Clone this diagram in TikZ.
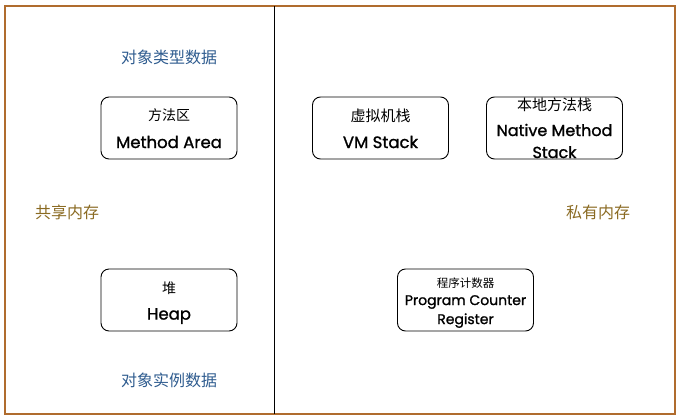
\documentclass[tikz,border=0pt]{standalone}
\usepackage{fontspec}
\usepackage{xcolor}
\usepackage{tikz}
\usetikzlibrary{positioning}
\newfontfamily\cjk{Noto Sans CJK SC}
\newfontfamily\hand{Poppins}[FakeBold=1.2]
\definecolor{frame}{HTML}{B06C2E}
\definecolor{typeblue}{HTML}{2F5C8F}
\definecolor{memolive}{HTML}{8A6A22}
\tikzset{
    area/.style={draw, line width=0.9pt, rounded corners=8pt, minimum width=136pt, minimum height=62pt, inner sep=0pt},
    zh/.style={font=\cjk\fontsize{14}{14}\selectfont},
    en/.style={font=\hand\fontsize{16.5}{18}\selectfont, align=center},
    note/.style={font=\cjk\fontsize{16}{16}\selectfont, text=typeblue},
    mem/.style={font=\cjk\fontsize{16}{16}\selectfont, text=memolive}
}
\begin{document}
\begin{tikzpicture}[x=1pt, y=-1pt]
        \useasboundingbox (0,0) rectangle (680,418);
        \draw[frame, line width=1.2pt] (5,6) rectangle (675,414);
        \coordinate (divtop) at (274,6);
        \coordinate (divbot) at (274,414);
        \draw[line width=1pt] (divtop) -- (divbot);

        % shared side
        \node[area] (methodarea) at (169,128) {};
        \node[zh] (methodzh) at (169,115) {方法区};
        \node[en] (methoden) at (169,142) {Method Area};

        \node[area] (heap) at (169,300) {};
        \node[zh] (heapzh) at (169,288) {堆};
        \node[en] (heapen) at (169,316) {Heap};

        % private side
        \node[area] (vmstack) at (380.5,128) {};
        \node[zh, font=\cjk\fontsize{15}{15}\selectfont] (vmzh) at (380.5,116) {虚拟机栈};
        \node[en] (vmen) at (380.5,142) {VM Stack};

        \node[area] (nativestack) at (554.5,128) {};
        \node[zh, font=\cjk\fontsize{15}{15}\selectfont] (nativezh) at (554.5,105) {本地方法栈};
        \node[en, font=\hand\fontsize{16}{18}\selectfont] (nativeen) at (554.5,141) {Native Method\\[4pt]Stack};

        \node[area] (pcreg) at (465.5,300) {};
        \node[zh, font=\cjk\fontsize{11.5}{11.5}\selectfont] (pczh) at (465.5,283) {程序计数器};
        \node[en, font=\hand\fontsize{14}{16}\selectfont] (pcen) at (465.5,311.5) {Program Counter\\[3pt]Register};

        % labels
        \node[note] (typedata) at (169,57) {对象类型数据};
        \node[note] (instdata) at (169,380) {对象实例数据};
        \node[mem] (shared) at (67,212) {共享内存};
        \node[mem] (private) at (598,212) {私有内存};
    \end{tikzpicture}
\end{document}
